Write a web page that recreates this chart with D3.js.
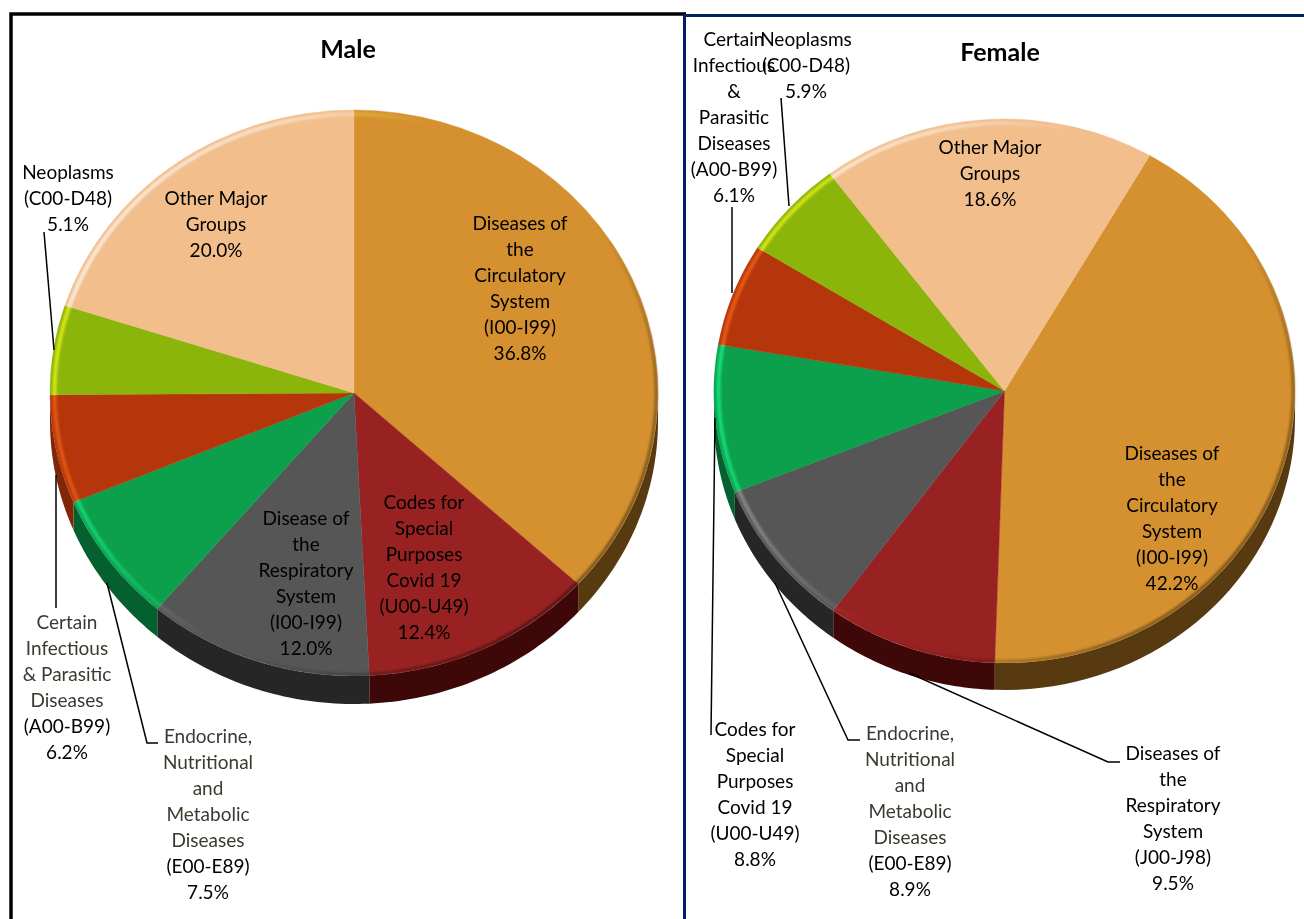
<!DOCTYPE html>
<html lang="en">
<head>
    <meta charset="UTF-8">
    <title>Causes of death by sex</title>
    <script src="https://d3js.org/d3.v7.min.js"></script>
    <style>
        html, body { margin: 0; padding: 0; background: #fff; }
        text { font-family: Lato, "Open Sans", sans-serif; }
    </style>
</head>
<body>
    <div id="my_dataviz"></div>
    <script>
        // slice order is clockwise, as in the picture
        var maleCategories = [
            ["Diseases of", "the", "Circulatory", "System", "(I00-I99)"],
            ["Codes for", "Special", "Purposes", "Covid 19", "(U00-U49)"],
            ["Disease of", "the", "Respiratory", "System", "(I00-I99)"],
            ["Endocrine,", "Nutritional", "and", "Metabolic", "Diseases", "(E00-E89)"],
            ["Certain", "Infectious", "& Parasitic", "Diseases", "(A00-B99)"],
            ["Neoplasms", "(C00-D48)"],
            ["Other Major", "Groups"]
        ];
        var maleValues = [36.8, 12.4, 12.0, 7.5, 6.2, 5.1, 20.0];

        var femaleCategories = [
            ["Diseases of", "the", "Circulatory", "System", "(I00-I99)"],
            ["Diseases of", "the", "Respiratory", "System", "(J00-J98)"],
            ["Endocrine,", "Nutritional", "and", "Metabolic", "Diseases", "(E00-E89)"],
            ["Codes for", "Special", "Purposes", "Covid 19", "(U00-U49)"],
            ["Certain", "Infectious", "&", "Parasitic", "Diseases", "(A00-B99)"],
            ["Neoplasms", "(C00-D48)"],
            ["Other Major", "Groups"]
        ];
        var femaleValues = [42.2, 9.5, 8.9, 8.8, 6.1, 5.9, 18.6];

        var faceColors = ["#d5912f", "#982222", "#565656", "#0ca04c", "#b5360b", "#8cb50b", "#f2be8c"];
        var wallColors = ["#573a10", "#3f0808", "#262626", "#05602f", "#7f2707", "#6a8a08", "#c09a70"];

        var width = 1304, height = 919;
        var lineGap = 26.1;

        // label placement: centre x, centre y of the first line, and the leader if any
        var maleLayout = [
            {x: 520, y: 223},
            {x: 424, y: 502},
            {x: 306, y: 518},
            {x: 208, y: 736, dim: 5, leader: [[107, 583], [147, 743], [158, 743]]},
            {x: 67, y: 622, dim: 4, leader: [[56, 475], [56, 608]]},
            {x: 68, y: 172, leader: [[44, 232], [54, 350]]},
            {x: 216, y: 198}
        ];
        var femaleLayout = [
            {x: 1172, y: 453},
            {x: 1173, y: 753, leader: [[909, 673], [1108, 762], [1120, 762]]},
            {x: 910, y: 733, dim: 5, leader: [[775, 583], [848, 740], [860, 740]]},
            {x: 755, y: 729, leader: [[715, 418], [711, 735]]},
            {x: 734, y: 39, leader: [[732, 207], [732, 293]]},
            {x: 806, y: 39, leader: [[781, 98], [789, 206]]},
            {x: 990, y: 147}
        ];

        var svg = d3.select("#my_dataviz")
            .append("svg")
            .attr("width", width)
            .attr("height", height)
            .style("display", "block");

        var defs = svg.append("defs");

        defs.append("filter").attr("id", "soft")
            .attr("x", "-5%").attr("y", "-5%").attr("width", "110%").attr("height", "110%")
            .append("feGaussianBlur").attr("stdDeviation", 0.9);

        // light bevel on the left, shadow on the lower right
        var light = defs.append("linearGradient").attr("id", "bevelLight")
            .attr("x1", 0).attr("y1", 0.3).attr("x2", 1).attr("y2", 0.7);
        light.append("stop").attr("offset", 0).attr("stop-color", "#fff").attr("stop-opacity", 0.7);
        light.append("stop").attr("offset", 0.22).attr("stop-color", "#fff").attr("stop-opacity", 0.5);
        light.append("stop").attr("offset", 0.44).attr("stop-color", "#fff").attr("stop-opacity", 0);

        var dark = defs.append("linearGradient").attr("id", "bevelDark")
            .attr("x1", 0).attr("y1", 0.1).attr("x2", 1).attr("y2", 0.9);
        dark.append("stop").attr("offset", 0.6).attr("stop-color", "#000").attr("stop-opacity", 0);
        dark.append("stop").attr("offset", 0.8).attr("stop-color", "#000").attr("stop-opacity", 0.3);
        dark.append("stop").attr("offset", 1).attr("stop-color", "#000").attr("stop-opacity", 0.55);

        function drawPie(opts) {
            var g = svg.append("g");
            var rx = opts.rx, ry = opts.ry, depth = opts.depth;
            var pie = d3.pie().sort(null)
                .startAngle(opts.start)
                .endAngle(opts.start + 2 * Math.PI);
            var slices = pie(opts.values);

            var arc = d3.arc().innerRadius(0).outerRadius(rx);
            var squash = "translate(" + opts.cx + "," + opts.cy + ") scale(1," + (ry / rx) + ")";

            // wall: only the front half of the rim can be seen
            var wallLine = d3.line();
            g.selectAll(".wall")
                .data(slices)
                .enter()
                .append("path")
                .attr("class", "wall")
                .attr("fill", function(d, i){ return wallColors[i]; })
                .attr("d", function(d){
                    var a0 = Math.max(d.startAngle, Math.PI / 2);
                    var a1 = Math.min(d.endAngle, 3 * Math.PI / 2);
                    if (a1 <= a0) return null;
                    var pts = d3.range(0, 41).map(function(k){
                        var a = a0 + (a1 - a0) * k / 40;
                        return [opts.cx + rx * Math.sin(a), opts.cy - ry * Math.cos(a)];
                    });
                    var low = pts.slice().reverse().map(function(p){ return [p[0], p[1] + depth]; });
                    return wallLine(pts.concat(low)) + "Z";
                });

            g.selectAll(".face")
                .data(slices)
                .enter()
                .append("path")
                .attr("class", "face")
                .attr("transform", squash)
                .attr("fill", function(d, i){ return faceColors[i]; })
                .attr("stroke", function(d, i){ return faceColors[i]; })
                .attr("stroke-width", 0.4)
                .attr("d", arc);

            // bevel rings laid over the face
            var ring = d3.arc().startAngle(0).endAngle(2 * Math.PI);
            g.append("path")
                .attr("transform", squash)
                .attr("fill", "url(#bevelLight)")
                .attr("filter", "url(#soft)")
                .style("mix-blend-mode", "overlay")
                .attr("d", ring({innerRadius: rx - 6.5, outerRadius: rx - 2.5}));
            g.append("path")
                .attr("transform", squash)
                .attr("fill", "url(#bevelDark)")
                .attr("filter", "url(#soft)")
                .attr("d", ring({innerRadius: rx - 3.5, outerRadius: rx}));

            // leaders first so the labels sit on top
            var leaderLine = d3.line();
            g.selectAll(".leader")
                .data(opts.layout.filter(function(d){ return d.leader; }))
                .enter()
                .append("path")
                .attr("class", "leader")
                .attr("fill", "none")
                .attr("stroke", "#000")
                .attr("stroke-width", 1.5)
                .attr("d", function(d){ return leaderLine(d.leader); });

            opts.categories.forEach(function(cat, i){
                var place = opts.layout[i];
                var lines = cat.concat([d3.format(".1f")(opts.values[i]) + "%"]);
                g.append("g").selectAll("text")
                    .data(lines)
                    .enter()
                    .append("text")
                    .attr("x", place.x)
                    .attr("y", function(d, k){ return place.y + 6.5 + k * lineGap; })
                    .attr("text-anchor", "middle")
                    .attr("font-size", "19px")
                    // the last lines of some outside labels are darker
                    .attr("fill", function(d, k){ return place.dim && k < place.dim ? "#3b3a30" : "#000"; })
                    .text(function(d){ return d; });
            });

            g.append("text")
                .attr("x", opts.titleX)
                .attr("y", opts.titleY)
                .attr("text-anchor", "middle")
                .attr("font-size", "25px")
                .attr("font-weight", "bold")
                .attr("fill", "#000")
                .text(opts.title);
        }

        drawPie({
            title: "Male", titleX: 348, titleY: 58,
            categories: maleCategories, values: maleValues, layout: maleLayout,
            cx: 354, cy: 393, rx: 304, ry: 283, depth: 28, start: 0
        });
        drawPie({
            title: "Female", titleX: 1000, titleY: 61,
            categories: femaleCategories, values: femaleValues, layout: femaleLayout,
            cx: 1004.5, cy: 391, rx: 290.5, ry: 272, depth: 27, start: Math.PI / 6
        });

        // panel borders, open at the bottom and right like the original
        var frames = [
            {stroke: "#000", w: 3.5, pts: [[11, 919], [11, 14], [686, 14]]},
            {stroke: "#00205f", w: 3, pts: [[684.5, 919], [684.5, 15.5], [1304, 15.5]]}
        ];
        svg.selectAll(".frame")
            .data(frames)
            .enter()
            .append("path")
            .attr("class", "frame")
            .attr("fill", "none")
            .attr("stroke", function(d){ return d.stroke; })
            .attr("stroke-width", function(d){ return d.w; })
            .attr("d", function(d){ return d3.line()(d.pts); });
    </script>
</body>
</html>
